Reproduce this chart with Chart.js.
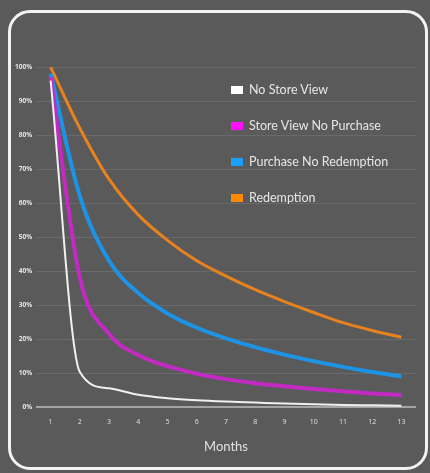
<!DOCTYPE html>
<html>
<head>
<meta charset="utf-8">
<script src="https://cdn.jsdelivr.net/npm/chart.js@4/dist/chart.umd.min.js"></script>
<style>
    html, body { margin: 0; padding: 0; background: #5a5a5a; }
    .wrap { position: relative; width: 430px; height: 473px; overflow: hidden; }
    .panel {
        position: absolute; left: 8px; top: 10px; width: 420px; height: 460px;
        box-sizing: border-box; border: 3px solid #f2f2f2; border-radius: 22px;
    }
    canvas { position: absolute; left: 0; top: 0; }
    .legend { position: absolute; left: 231px; top: 82px; font-family: Lato, sans-serif; font-size: 12.5px; color: #e6e6e6; }
    .legend-item { display: flex; align-items: center; height: 36px; line-height: 16px; margin-top: -10px; margin-bottom: 10px; }
    .legend-item .swatch { width: 12px; height: 8px; margin-right: 6px; }
</style>
</head>
<body>
<div class="wrap">
    <div class="panel"></div>
    <canvas id="retentionChart" width="430" height="473"></canvas>
    <div class="legend" id="legend"></div>
</div>
<script>
const months = ['1', '2', '3', '4', '5', '6', '7', '8', '9', '10', '11', '12', '13'];
const seriesNames = ['No Store View', 'Store View No Purchase', 'Purchase No Redemption', 'Redemption'];

const noStoreView = [96, 10.3, 5.5, 3.6, 2.6, 2.0, 1.6, 1.3, 1.0, 0.8, 0.6, 0.5, 0.4];
const storeViewNoPurchase = [97, 38, 21.5, 15.3, 12, 9.8, 8.2, 7, 6.1, 5.3, 4.6, 4, 3.5];
const purchaseNoRedemption = [98, 62, 43, 33.5, 27.5, 23.3, 20.2, 17.6, 15.4, 13.5, 11.8, 10.3, 9];
const redemption = [100, 82, 67, 56.5, 49, 43, 38.5, 34.5, 31, 27.8, 24.8, 22.5, 20.5];

const lineColors = ['#f0f0f0', '#c22ac2', '#1d93e6', '#e8821f'];
const swatchColors = ['#ffffff', '#ff10ff', '#1aa0ff', '#ff8a00'];
const lineWidths = [2, 4, 4, 3];

const seriesData = [noStoreView, storeViewNoPurchase, purchaseNoRedemption, redemption];

const ctx = document.getElementById('retentionChart').getContext('2d');
new Chart(ctx, {
    type: 'line',
    data: {
        labels: months,
        datasets: seriesData.map((d, i) => ({
            label: seriesNames[i],
            data: d,
            borderColor: lineColors[i],
            borderWidth: lineWidths[i],
            pointRadius: 0,
            fill: false,
            cubicInterpolationMode: 'monotone'
        }))
    },
    options: {
        responsive: false,
        animation: false,
        layout: { padding: { top: 67, right: 14, left: 0, bottom: 0 } },
        plugins: { legend: { display: false }, tooltip: { enabled: false } },
        scales: {
            x: {
                offset: true,
                grid: { display: false },
                border: { display: false },
                ticks: { color: '#e0e0e0', font: { family: 'Open Sans', size: 7 }, padding: 3 },
                title: {
                    display: true,
                    text: 'Months',
                    color: '#e0e0e0',
                    font: { family: 'Lato', size: 13 },
                    padding: { top: 0, bottom: 18 }
                },
                afterFit: scale => { scale.height = 66; }
            },
            y: {
                min: 0,
                max: 100,
                ticks: {
                    stepSize: 10,
                    color: '#e6e6e6',
                    font: { family: 'Open Sans', size: 6.5, weight: 'bold' },
                    padding: 4,
                    callback: v => v + '%'
                },
                grid: {
                    drawTicks: false,
                    color: c => c.tick && c.tick.value === 0 ? 'rgba(255,255,255,0.45)' : 'rgba(255,255,255,0.1)',
                    lineWidth: c => c.tick && c.tick.value === 0 ? 2 : 1
                },
                border: { display: false },
                afterFit: scale => { scale.width = 36; }
            }
        }
    }
});

// legend sits inside the plot area, so build it as html
const legendEl = document.getElementById('legend');
legendEl.innerHTML = seriesNames.map((name, i) => `
    <div class="legend-item"><span class="swatch" style="background:${swatchColors[i]}"></span>${name}</div>
`).join('');
</script>
</body>
</html>
